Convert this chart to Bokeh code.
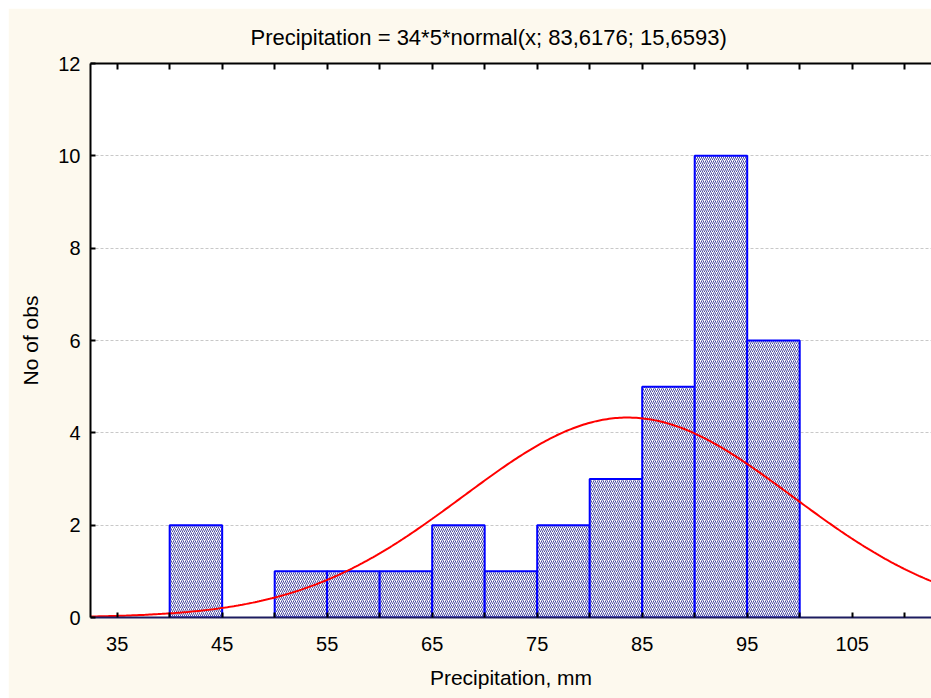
import numpy as np
from bokeh.plotting import figure
from bokeh.models import FixedTicker, LinearAxis, Range1d, Title, CustomJSTickFormatter
from bokeh.embed import file_html
from bokeh.resources import INLINE

# ---- data ----
bin_left = [40, 45, 50, 55, 60, 65, 70, 75, 80, 85, 90, 95]
bin_width = 5
counts = [2, 0, 1, 1, 1, 2, 1, 2, 3, 5, 10, 6]
n_obs = 34
fit_mean = 83.6176
fit_sd = 15.6593
x_tick_labels = [35, 45, 55, 65, 75, 85, 95, 105]
x_minor_ticks = [40, 50, 60, 70, 80, 90, 100, 110]
top_ticks = [35, 40, 45, 50, 55, 60, 65, 70, 75, 80, 85, 90, 95, 100, 105, 110]
y_ticks = [0, 2, 4, 6, 8, 10, 12]
title_text = "Precipitation = 34*5*normal(x; 83,6176; 15,6593)"
x_label = "Precipitation, mm"
y_label = "No of obs"

X_START, X_END = 32.46, 112.55
FONT = "Liberation Sans"
BG = "#FDF9EE"

p = figure(width=923, height=690, output_backend="svg", toolbar_location=None,
           x_range=Range1d(X_START, X_END), y_range=Range1d(0, 12),
           min_border_left=82, min_border_right=0, min_border_top=54, min_border_bottom=81)
p.margin = (8, 0, 0, 8)
p.border_fill_color = BG
p.background_fill_color = "white"
p.outline_line_color = None

# bars (skip empty bins)
lefts = [l for l, c in zip(bin_left, counts) if c > 0]
rights = [l + bin_width for l, c in zip(bin_left, counts) if c > 0]
tops = [c for c in counts if c > 0]
p.quad(left=lefts, right=rights, bottom=0, top=tops,
       fill_color="white", hatch_pattern="/", hatch_color="#1e1e8a", hatch_alpha=0.8,
       hatch_scale=4, hatch_weight=1, line_color="#0000FF", line_width=2)

# fitted normal curve from the title's parameters
xs = np.linspace(X_START, X_END, 400)
ys = n_obs * bin_width * np.exp(-0.5 * ((xs - fit_mean) / fit_sd) ** 2) / (fit_sd * np.sqrt(2 * np.pi))
p.line(xs, ys, line_color="#FF0000", line_width=2)

# grid
p.xgrid.visible = False
p.ygrid.ticker = FixedTicker(ticks=y_ticks[1:-1])
p.ygrid.grid_line_color = "#C8C8C8"
p.ygrid.grid_line_dash = "3 2"
p.ygrid.grid_line_width = 1

# bottom axis
xa = p.xaxis[0]
xa.ticker = FixedTicker(ticks=x_tick_labels, minor_ticks=x_minor_ticks)
xa.axis_line_color = "#1c1c60"
xa.axis_line_width = 2
xa.major_tick_in = 5
xa.major_tick_out = 0
xa.minor_tick_in = 5
xa.minor_tick_out = 0
xa.major_tick_line_width = 2
xa.minor_tick_line_width = 2
xa.major_tick_line_color = "black"
xa.minor_tick_line_color = "black"
xa.major_label_standoff = 19
xa.major_label_text_font = FONT
xa.major_label_text_font_size = "20px"
xa.major_label_text_color = "black"
xa.axis_label = x_label
xa.axis_label_text_font = FONT
xa.axis_label_text_font_size = "21px"
xa.axis_label_text_font_style = "normal"
xa.axis_label_text_color = "black"
xa.axis_label_standoff = 12

# left axis
ya = p.yaxis[0]
ya.ticker = FixedTicker(ticks=y_ticks)
ya.axis_line_color = "black"
ya.axis_line_width = 2
ya.major_tick_in = 5
ya.major_tick_out = 0
ya.major_tick_line_width = 2
ya.minor_tick_line_color = None
ya.major_label_standoff = 10
ya.major_label_text_font = FONT
ya.major_label_text_font_size = "20px"
ya.major_label_text_color = "black"
ya.axis_label = y_label
ya.axis_label_text_font = FONT
ya.axis_label_text_font_size = "21px"
ya.axis_label_text_font_style = "normal"
ya.axis_label_text_color = "black"
ya.axis_label_standoff = 13

# top axis: ticks only (added first so it sits on the frame)
top = LinearAxis(ticker=FixedTicker(ticks=top_ticks),
                 formatter=CustomJSTickFormatter(code="return ''"))
top.axis_line_color = "black"
top.axis_line_width = 2
top.major_tick_in = 6
top.major_tick_out = 0
top.major_tick_line_width = 2
top.minor_tick_line_color = None
top.major_label_standoff = 0
p.add_layout(top, "above")

t = Title(text=title_text, align="left", text_font=FONT, text_font_size="22px",
          text_font_style="normal", text_color="black", offset=160, standoff=28)
p.add_layout(t, "above")

open("out.html", "w").write(file_html(p, INLINE))
